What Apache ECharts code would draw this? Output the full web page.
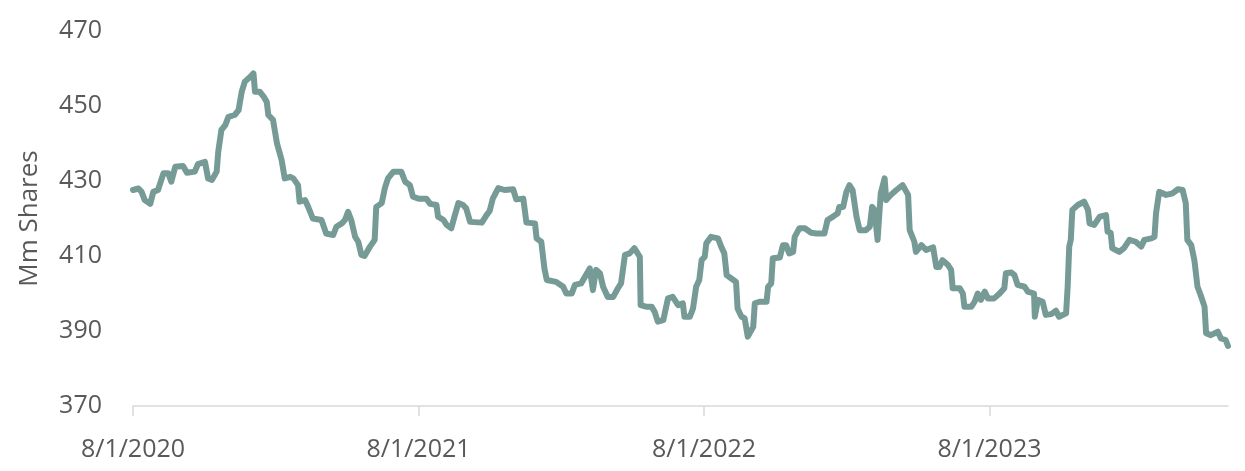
<!DOCTYPE html>
<html>
<head>
<meta charset="utf-8">
<script src="https://cdn.jsdelivr.net/npm/echarts@6/dist/echarts.min.js"></script>
<style>
html,body{margin:0;padding:0;background:#fff;}
#chart{width:1245px;height:471px;}
</style>
</head>
<body>
<div id="chart"></div>
<script>
const dates = [
"2020-08-01","2020-08-08","2020-08-12","2020-08-16","2020-08-23","2020-08-27","2020-09-02","2020-09-09","2020-09-15","2020-09-19",
"2020-09-24","2020-10-04","2020-10-09","2020-10-19","2020-10-23","2020-11-01","2020-11-05","2020-11-10","2020-11-16","2020-11-18",
"2020-11-22","2020-11-27","2020-12-01","2020-12-09","2020-12-14","2020-12-18","2020-12-22","2020-12-29","2021-01-02","2021-01-04",
"2021-01-10","2021-01-15","2021-01-19","2021-01-21","2021-01-27","2021-02-01","2021-02-07","2021-02-11","2021-02-18","2021-02-22",
"2021-02-28","2021-03-02","2021-03-09","2021-03-13","2021-03-17","2021-03-19","2021-03-30","2021-04-05","2021-04-14","2021-04-18",
"2021-04-25","2021-04-29","2021-05-03","2021-05-07","2021-05-12","2021-05-16","2021-05-20","2021-05-24","2021-05-31","2021-06-06",
"2021-06-08","2021-06-15","2021-06-19","2021-06-23","2021-06-30","2021-07-10","2021-07-15","2021-07-21","2021-07-25","2021-08-01",
"2021-08-11","2021-08-16","2021-08-24","2021-08-26","2021-09-02","2021-09-06","2021-09-12","2021-09-16","2021-09-21","2021-09-27",
"2021-10-01","2021-10-06","2021-10-21","2021-10-27","2021-10-31","2021-11-04","2021-11-11","2021-11-19","2021-11-30","2021-12-04",
"2021-12-13","2021-12-17","2021-12-28","2021-12-30","2022-01-05","2022-01-09","2022-01-12","2022-01-24","2022-02-02","2022-02-06",
"2022-02-13","2022-02-17","2022-02-25","2022-03-02","2022-03-08","2022-03-12","2022-03-16","2022-03-21","2022-03-25","2022-03-31",
"2022-04-07","2022-04-13","2022-04-17","2022-04-22","2022-04-28","2022-05-04","2022-05-11","2022-05-12","2022-05-19","2022-05-26",
"2022-05-30","2022-06-03","2022-06-10","2022-06-16","2022-06-22","2022-06-29","2022-07-05","2022-07-07","2022-07-14","2022-07-18",
"2022-07-22","2022-07-26","2022-07-29","2022-08-02","2022-08-04","2022-08-10","2022-08-19","2022-08-23","2022-08-27","2022-08-30",
"2022-09-05","2022-09-11","2022-09-13","2022-09-18","2022-09-22","2022-09-26","2022-10-03","2022-10-05","2022-10-11","2022-10-20",
"2022-10-22","2022-10-26","2022-10-28","2022-11-06","2022-11-10","2022-11-14","2022-11-18","2022-11-23","2022-11-25","2022-12-01",
"2022-12-08","2022-12-16","2022-12-23","2023-01-02","2023-01-06","2023-01-13","2023-01-19","2023-01-21","2023-01-26","2023-01-30",
"2023-02-03","2023-02-07","2023-02-12","2023-02-16","2023-02-24","2023-03-01","2023-03-04","2023-03-07","2023-03-11","2023-03-15",
"2023-03-20","2023-03-22","2023-03-28","2023-04-04","2023-04-12","2023-04-19","2023-04-21","2023-04-27","2023-04-29","2023-05-06",
"2023-05-12","2023-05-21","2023-05-25","2023-05-29","2023-06-02","2023-06-09","2023-06-13","2023-06-15","2023-06-24","2023-06-28",
"2023-06-30","2023-07-09","2023-07-13","2023-07-17","2023-07-21","2023-07-26","2023-07-30","2023-08-07","2023-08-14","2023-08-20",
"2023-08-22","2023-08-29","2023-09-02","2023-09-06","2023-09-15","2023-09-19","2023-09-21","2023-09-27","2023-09-28","2023-10-02",
"2023-10-08","2023-10-12","2023-10-19","2023-10-25","2023-10-29","2023-11-07","2023-11-09","2023-11-11","2023-11-13","2023-11-15",
"2023-11-22","2023-11-30","2023-12-05","2023-12-07","2023-12-13","2023-12-20","2023-12-28","2023-12-30","2024-01-03","2024-01-05",
"2024-01-14","2024-01-20","2024-01-27","2024-02-04","2024-02-11","2024-02-15","2024-02-24","2024-02-28","2024-03-01","2024-03-05",
"2024-03-14","2024-03-22","2024-03-29","2024-04-04","2024-04-08","2024-04-10","2024-04-15","2024-04-19","2024-04-23","2024-04-27",
"2024-05-02","2024-05-04","2024-05-10","2024-05-19","2024-05-23","2024-05-29","2024-06-01"
];
const shares = [
427.6,428.0,427.1,424.9,423.9,427.1,427.6,432.1,432.1,429.8,
433.8,434.0,432.2,432.5,434.5,435.1,430.7,430.3,432.5,437.8,
443.6,444.9,447.1,447.6,448.9,453.8,456.5,457.8,458.7,453.8,
453.8,452.5,451.1,447.6,446.3,440.1,435.6,430.7,431.1,430.7,
428.9,424.5,424.9,423.1,421.0,420.0,419.6,416.0,415.6,417.8,
418.7,419.6,421.8,419.6,415.1,413.8,410.3,410.0,412.5,414.3,
423.1,424.1,428.1,430.7,432.5,432.5,429.8,428.9,425.8,425.3,
425.3,423.9,423.6,420.5,419.6,418.3,417.4,420.5,424.1,423.6,
422.7,419.1,418.9,420.9,422.0,425.3,428.1,427.6,427.8,425.1,
425.3,418.9,418.7,414.7,413.8,406.7,403.6,403.1,401.8,400.0,
400.0,402.3,402.7,404.5,406.7,400.9,406.3,405.4,401.8,399.1,
399.1,401.4,402.7,410.3,410.7,412.1,409.8,396.9,396.5,396.5,
395.1,392.5,392.9,398.7,399.1,396.9,397.4,393.8,393.8,396.0,
401.8,403.6,408.9,409.8,413.4,415.1,414.7,412.5,410.7,404.9,
404.0,403.1,396.0,393.8,393.4,388.5,391.1,397.4,397.8,397.8,
401.8,402.7,409.4,409.6,412.9,412.9,410.7,411.1,415.1,417.4,
417.4,416.2,416.0,416.0,419.6,420.5,421.4,423.1,423.1,427.0,
428.9,427.6,420.5,416.9,416.9,417.8,423.1,422.3,414.3,426.7,
430.7,424.9,426.3,427.6,428.9,426.3,416.9,413.8,411.1,412.9,
411.6,412.3,407.1,407.1,408.9,407.6,406.3,401.4,401.4,400.0,
396.5,396.5,397.8,400.0,398.3,400.5,398.7,398.7,400.0,401.4,
405.4,405.6,404.9,402.3,401.8,400.5,400.0,400.0,393.8,398.3,
397.8,394.3,394.5,395.4,393.8,394.7,401.8,412.5,414.3,422.3,
423.6,424.5,422.3,418.7,418.3,420.5,420.9,416.5,416.2,412.1,
411.1,412.1,414.3,413.8,412.5,414.3,414.7,415.1,421.4,427.1,
426.3,426.7,427.8,427.6,424.1,414.3,412.9,408.9,401.8,399.6,
396.5,389.4,388.9,389.8,388.0,387.6,386.0
];
const xTickDates = ["2020-08-01","2021-08-01","2022-08-01","2023-08-01"];
const xStart = "2020-08-01";
const xEnd = "2024-06-01";
const yTicks = [370, 390, 410, 430, 450, 470];
const yName = "Mm Shares";

function ts(s){ const p = s.split("-").map(Number); return Date.UTC(p[0], p[1]-1, p[2]); }
function fmt(v){ const d = new Date(v); return (d.getUTCMonth()+1) + "/" + d.getUTCDate() + "/" + d.getUTCFullYear(); }

const data = dates.map((d, i) => [ts(d), shares[i]]);
const font = "'Open Sans', 'Noto Sans', sans-serif";
const chart = echarts.init(document.getElementById('chart'), null, {renderer: 'canvas'});
chart.setOption({
  animation: false,
  backgroundColor: '#ffffff',
  grid: {left: 133, right: 17, top: 31, bottom: 65, containLabel: false},
  xAxis: {
    type: 'value',
    min: ts(xStart),
    max: ts(xEnd),
    splitLine: {show: false},
    axisLine: {show: true, lineStyle: {color: '#d9d9d9', width: 1.5}},
    axisTick: {show: true, length: 10, lineStyle: {color: '#d9d9d9', width: 1.5}, customValues: xTickDates.map(ts)},
    axisLabel: {
      customValues: xTickDates.map(ts),
      formatter: fmt,
      color: '#595959', fontSize: 25, fontFamily: font, margin: 31
    }
  },
  yAxis: {
    type: 'value',
    min: yTicks[0],
    max: yTicks[yTicks.length-1],
    interval: yTicks[1]-yTicks[0],
    name: yName,
    nameLocation: 'middle',
    nameGap: 90,
    nameTextStyle: {color: '#595959', fontSize: 26, fontFamily: font},
    splitLine: {show: false},
    axisLine: {show: false},
    axisTick: {show: false},
    axisLabel: {color: '#595959', fontSize: 25, fontFamily: font, margin: 31}
  },
  series: [{
    type: 'line',
    data: data,
    showSymbol: false,
    symbol: 'none',
    lineStyle: {color: '#769b96', width: 6, join: 'round', cap: 'round'},
    itemStyle: {color: '#769b96'}
  }]
});
</script>
</body>
</html>
